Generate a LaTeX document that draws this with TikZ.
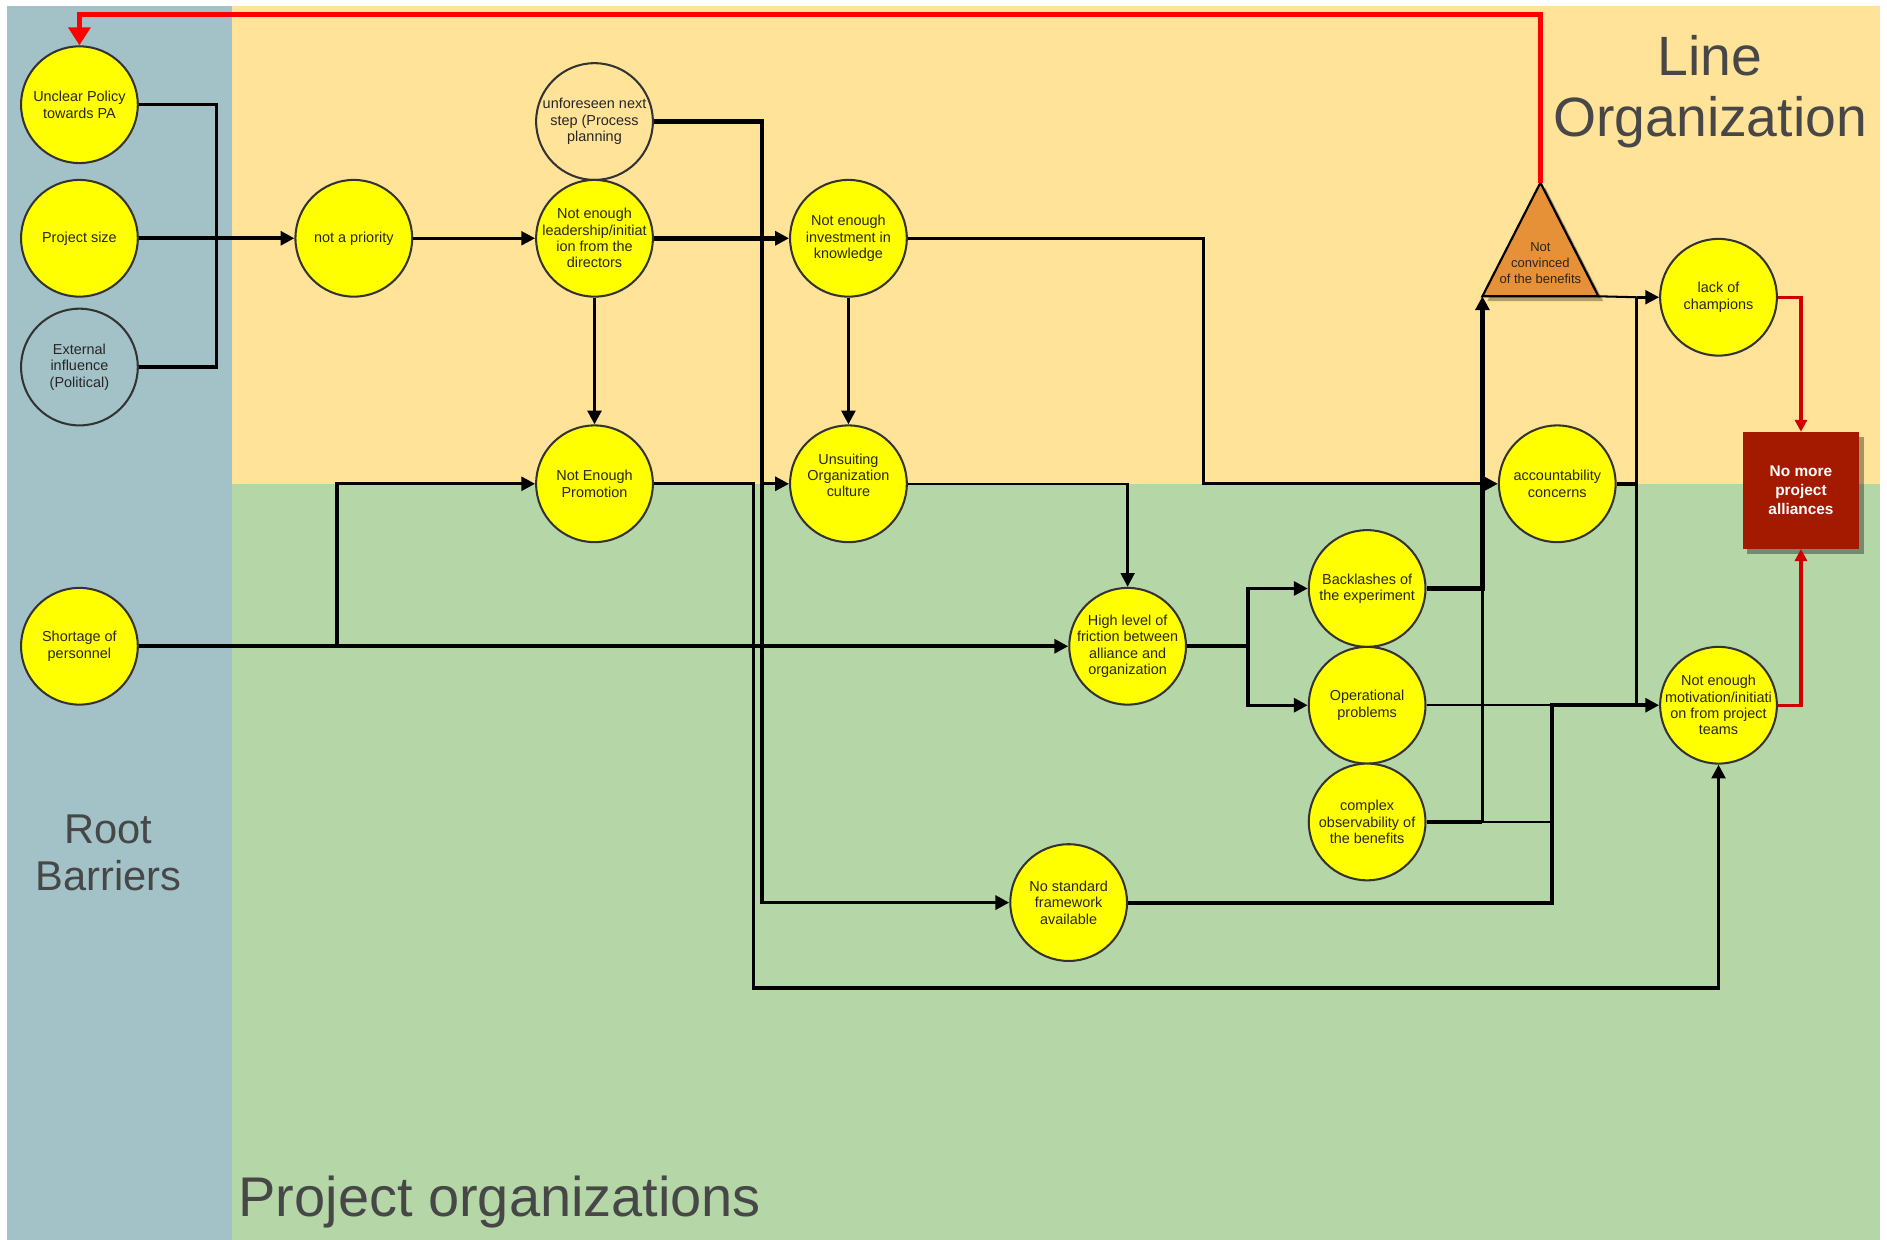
\documentclass[tikz,border=0pt]{standalone}
\usepackage{fontspec}
\setmainfont{Liberation Sans}
\usetikzlibrary{arrows.meta,calc,shadows}

\definecolor{rootbg}{HTML}{A2C2C7}
\definecolor{linebg}{HTML}{FFE399}
\definecolor{projbg}{HTML}{B5D7A8}
\definecolor{bubblefill}{HTML}{FFFF00}
\definecolor{rim}{HTML}{333333}
\definecolor{ink}{HTML}{262626}
\definecolor{headink}{HTML}{474747}
\definecolor{convfill}{HTML}{E69138}
\definecolor{outcome}{HTML}{A31A00}
\definecolor{feedback}{HTML}{FF0000}
\definecolor{impact}{HTML}{D00000}

% a circle with its text set separately, so the text never widens the circle
\newcommand{\bubble}[4][yc]{%
  \node[#1] (#2) at (#3) {};
  \node[txt] (#2-t) at (#2) {#4};}

\begin{document}
\begin{tikzpicture}[x=1pt,y=-1pt,
  yc/.style={circle, draw=rim, line width=1.7pt, fill=bubblefill,
             minimum size=97pt, inner sep=0pt},
  oc/.style={yc, fill=none},
  txt/.style={align=center, text=ink, inner sep=0pt,
              font=\fontsize{12}{13.6}\selectfont},
  link/.style={draw=black, line width=#1},
  link/.default=2.6pt,
  arr/.style={-{Triangle[length=11.5pt,width=11.5pt]}},
  heading/.style={text=headink, align=center, inner sep=0pt},
]
\useasboundingbox (0,0) rectangle (1568,1030);

% swimlanes
\fill[white] (0,0) rectangle (1568,1030);
\fill[rootbg] (6,5) rectangle (193,1030);
\fill[linebg] (193,5) rectangle (1562,402);
\fill[projbg] (193,402) rectangle (1562,1030);

% lane titles
\node[heading, font=\fontsize{46}{51}\selectfont] (lineorg) at (1421,76) {Line\\Organization};
\node[heading, font=\fontsize{34.6}{39}\selectfont] (rootbar) at (90,709) {Root\\Barriers};
\node[heading, anchor=base west, font=\fontsize{46.5}{52}\selectfont] (projorg) at (198,1011) {Project organizations};

% root barriers
\bubble{unclear}{66,87}{Unclear Policy\\towards PA}
\bubble{psize}{66,198}{Project size}
\bubble[oc]{ext}{66,305}{External\\influence\\(Political)}
\bubble{short}{66,537}{Shortage of\\personnel}

% causes
\bubble{prio}{294,198}{not a priority}
\bubble[oc]{unf}{494,101}{unforeseen next\\step (Process\\planning}
\bubble{lead}{494,198}{Not enough\\leadership/initiat\\ion from the\\directors}
\bubble{promo}{494,402}{Not Enough\\Promotion}
\bubble{invest}{705,198}{Not enough\\investment in\\knowledge}
\node[yc] (culture) at (705,402) {};
\node[txt, yshift=7pt] (culture-t) at (culture) {Unsuiting\\Organization\\culture};
\bubble{fric}{937,537}{High level of\\friction between\\alliance and\\organization}
\bubble{frame}{888,750}{No standard\\framework\\available}
\bubble{back}{1136,489}{Backlashes of\\the experiment}
\bubble{oper}{1136,586}{Operational\\problems}
\bubble{cplx}{1136,683}{complex\\observability of\\the benefits}
\bubble{acc}{1294,402}{accountability\\concerns}
\bubble{champ}{1428,247}{lack of\\champions}
\bubble{motiv}{1428,586}{Not enough\\motivation/initiati\\on from project\\teams}

% triangle: not convinced of the benefits
\node[minimum width=96pt, minimum height=94pt, inner sep=0pt] (conv) at (1280,199) {};
\fill[black, opacity=0.3] ($(conv.south west)+(4,4)$) -- ($(conv.north)+(4,4)$)
  -- ($(conv.south east)+(4,4)$) -- cycle;
\draw[black, line width=1.8pt, fill=convfill, line join=miter]
  (conv.south west) -- (conv.north) -- (conv.south east) -- cycle;
\node[txt, font=\fontsize{10.8}{13.5}\selectfont] (conv-t) at (1280,218.5) {Not\\convinced\\of the benefits};

% outcome
\node[fill=outcome, minimum size=97pt, inner sep=0pt, text=white, align=center,
      font=\bfseries\fontsize{12.8}{15.5}\selectfont,
      drop shadow={shadow xshift=4pt, shadow yshift=-4pt, opacity=0.35, fill=black}]
  (alliance) at (1496.5,407.5) {No more\\project\\alliances};

% root barriers into "not a priority"
\coordinate (mergeA) at (180,198);
\draw[link=2.6pt] (unclear.east) -| (mergeA);
\draw[link=2.6pt] (ext.east) -| (mergeA);
\draw[link=3pt, arr] (psize.east) -- (prio.west);
\draw[link=2.2pt, arr] (prio.east) -- (lead.west);

% leadership
\draw[link=2.6pt, arr] (lead.south) -- (promo.north);
\draw[link=4pt, arr] (lead.east) -- (invest.west);

% unforeseen next step
\coordinate (dropU) at (633,750);
\draw[link=3.6pt] (unf.east) -| (dropU |- culture.west);
\draw[link=3pt, arr] (dropU |- culture.west) -- (dropU) -- (frame.west);
\draw[link=2.6pt, arr] (dropU |- culture.west) -- (culture.west);

% investment in knowledge
\draw[link=2.6pt, arr] (invest.south) -- (culture.north);
\coordinate (turnK) at (1000,198);
\draw[link=2.6pt, arr] (invest.east) -- (turnK) |- (acc.west);

% organization culture and personnel into friction
\draw[link=2pt, arr] (culture.east) -| (fric.north);
\coordinate (forkS) at (280,537);
\draw[link=3pt, arr] (short.east) -- (fric.west);
\draw[link=2.6pt, arr] (forkS) |- (promo.west);

% promotion into team motivation
\coordinate (dropP) at (626,821);
\draw[link=2.6pt, arr] (promo.east) -| (dropP) -| (motiv.south);

% friction splits
\coordinate (forkF) at (1037,537);
\draw[link=3pt] (fric.east) -- (forkF);
\draw[link=2.8pt, arr] (forkF) |- (back.west);
\draw[link=2.8pt, arr] (forkF) |- (oper.west);

% towards "not convinced"
\draw[link=2.3pt] (cplx.east -| conv.south west) -- (back.east -| conv.south west);
\draw[link=4.4pt, arr] (back.east) -| (conv.south west);
\draw[link=3.8pt] (cplx.east) -- (cplx.east -| conv.south west);

% towards team motivation
\coordinate (turnN) at (1290,750);
\draw[link=1.8pt] (cplx.east -| conv.south west) -- (cplx.east -| turnN);
\draw[link=1.7pt] (oper.east) -- (oper.east -| turnN);
\draw[link=3.3pt, arr] (frame.east) -- (turnN) |- (motiv.west);

% accountability concerns
\coordinate (riseC) at (1360,402);
\draw[link=3.2pt] (acc.east) -- (riseC);
\draw[link=2.6pt] (riseC |- champ.west) -- (riseC |- motiv.west);
\draw[link=1.7pt] (conv.south east) -- (riseC |- champ.west);
\draw[link=2.3pt, arr] (riseC |- champ.west) -- (champ.west);

% feedback loop and outcome
\coordinate (topR) at (1280,12);
\draw[feedback, line width=3.8pt, -{Triangle[length=15pt,width=18pt]}]
  (conv.north) -- (topR) -| (unclear.north);
\draw[impact, line width=2.6pt, -{Triangle[length=10pt,width=10pt]}]
  (champ.east) -| (alliance.north);
\draw[impact, line width=2.6pt, -{Triangle[length=10pt,width=10pt]}]
  (motiv.east) -| (alliance.south);
\end{tikzpicture}
\end{document}
